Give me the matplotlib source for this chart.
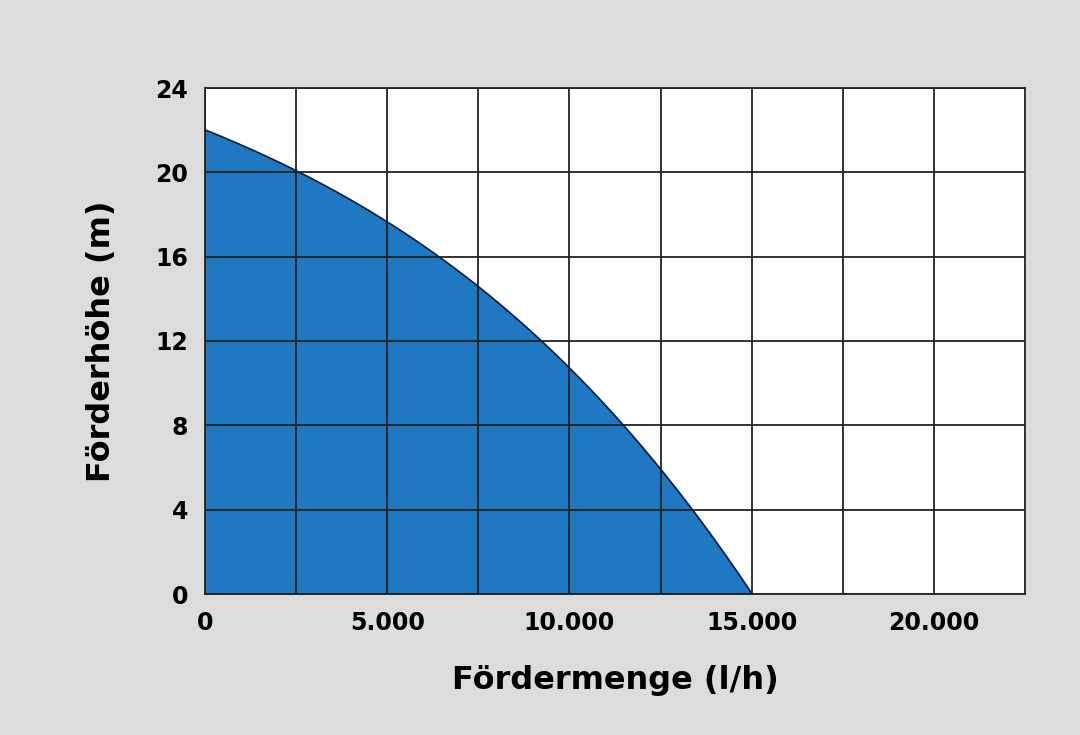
import numpy as np
import matplotlib.pyplot as plt

# Kennlinie der Pumpe
menge = [0, 2500, 5000, 7500, 10000, 12500, 15000]
hoehe = [22, 20.1, 17.7, 14.5, 10.7, 6.0, 0]

x_ticks = [0, 5000, 10000, 15000, 20000]
x_labels = ['0', '5.000', '10.000', '15.000', '20.000']
y_ticks = [0, 4, 8, 12, 16, 20, 24]

fig = plt.figure(figsize=(10.8, 7.35), dpi=100, facecolor='#dcdcdc')
ax = fig.add_axes([205/1080, 1 - 594/735, 820/1080, 506/735])
ax.set_facecolor('white')

xs = np.linspace(0, 15000, 200)
coef = np.polyfit(menge, hoehe, 3)
ys = np.clip(np.polyval(coef, xs), 0, None)
ys[-1] = 0
ax.fill_between(xs, 0, ys, color='#1f78c1', zorder=1)
ax.plot(xs, ys, color='#102040', lw=1.2, zorder=3)

ax.set_xlim(0, 22500)
ax.set_ylim(0, 24)
ax.set_xticks(np.arange(0, 22501, 2500), minor=False)
ax.set_xticks(x_ticks)
ax.set_xticks(np.arange(2500, 22500, 5000), minor=True)
ax.set_xticklabels(x_labels)
ax.set_yticks(y_ticks)
ax.grid(True, which='both', color='#222222', lw=1.3, zorder=2)
ax.set_axisbelow(False)
ax.tick_params(which='both', length=0, labelsize=17, pad=12)
for lab in ax.get_xticklabels() + ax.get_yticklabels():
    lab.set_fontweight('bold')
for s in ax.spines.values():
    s.set_color('#222222')
    s.set_linewidth(1.3)

ax.set_xlabel('Fördermenge (l/h)', fontsize=23, fontweight='bold', labelpad=22)
ax.set_ylabel('Förderhöhe (m)', fontsize=23, fontweight='bold', labelpad=28)

plt.savefig('out.png', dpi=100, facecolor=fig.get_facecolor())
